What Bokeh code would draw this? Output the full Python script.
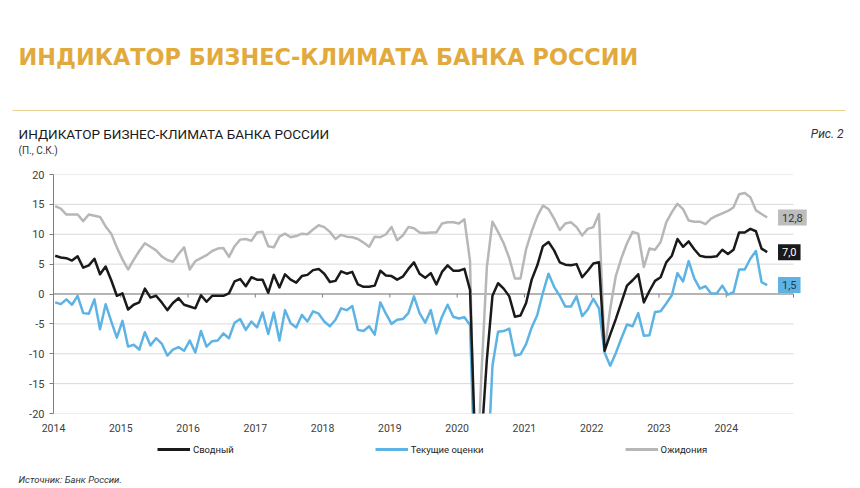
from bokeh.plotting import figure
from bokeh.layouts import column
from bokeh.models import (Label, Legend, LegendItem,
                          FixedTicker, ColumnDataSource, Range1d)
from bokeh.core.properties import value
from bokeh.embed import file_html
from bokeh.resources import INLINE

# ---- data: monthly, Jan 2014 .. Aug 2024 ----
start_year = 2014
years = list(range(2014, 2025))
y_ticks = list(range(-20, 25, 5))

svodny = [
    6.4, 6.1, 6.0, 5.6, 6.3, 4.4, 4.8, 5.9, 3.3, 4.6, 2.3, -0.3,
    0.1, -2.6, -1.8, -1.4, 0.9, -0.6, -0.3, -1.4, -2.7, -1.5, -0.7, -1.8,
    -2.1, -2.4, -0.2, -1.3, -0.3, -0.3, -0.3, 0.1, 2.1, 2.5, 1.3, 2.8,
    2.4, 2.4, 0.2, 3.2, 1.1, 3.3, 2.4, 1.9, 3.0, 3.2, 4.0, 4.2,
    3.4, 2.0, 2.2, 3.8, 3.4, 3.7, 1.6, 1.2, 1.2, 1.4, 3.9, 3.1,
    3.0, 2.4, 2.9, 4.2, 5.3, 3.4, 2.7, 3.5, 1.6, 3.7, 4.8, 3.9,
    3.9, 4.2, 0.7, -28.0, -25.0, -11.0, -0.3, 1.8, 0.9, -0.4, -3.8, -3.6,
    -1.5, 2.4, 4.8, 8.0, 8.7, 7.3, 5.3, 4.9, 4.8, 5.0, 2.8, 3.9,
    5.1, 5.3, -9.5, -6.8, -4.2, -1.4, 1.4, 2.3, 3.3, -1.4, 0.5, 2.2,
    2.8, 5.3, 6.4, 9.2, 7.9, 8.8, 7.5, 6.4, 6.2, 6.2, 6.3, 7.4,
    6.7, 7.4, 10.3, 10.3, 10.9, 10.5, 7.6, 7.0,
]

tekushchie = [
    -1.4, -1.7, -0.9, -1.8, -0.3, -3.2, -3.3, -0.9, -5.9, -1.7, -4.6, -7.3,
    -4.5, -8.8, -8.5, -9.3, -6.4, -8.6, -7.4, -8.3, -10.3, -9.3, -8.9, -9.5,
    -7.8, -9.8, -6.2, -8.8, -7.9, -7.8, -6.6, -7.4, -4.8, -4.2, -6.0, -4.6,
    -5.6, -3.1, -6.7, -3.1, -7.8, -2.7, -4.9, -5.6, -3.5, -4.6, -2.9, -3.3,
    -4.6, -5.4, -4.3, -2.4, -2.7, -2.0, -6.0, -6.2, -5.4, -6.8, -1.4, -3.3,
    -5.0, -4.3, -4.2, -3.2, -0.4, -3.2, -4.8, -2.7, -6.6, -3.8, -1.8, -3.8,
    -4.1, -3.9, -5.2, -35.0, -38.0, -32.0, -12.0, -6.3, -6.2, -5.8, -10.3, -10.1,
    -8.4, -5.6, -3.5, 0.2, 3.4, 1.2, -0.3, -2.1, -2.1, -0.4, -3.7, -2.6,
    -0.8, -2.4, -9.8, -12.0, -9.9, -7.4, -5.1, -5.4, -3.2, -7.0, -6.9, -3.0,
    -2.9, -1.6, -0.2, 3.5, 2.1, 5.5, 2.6, 0.9, 1.3, 0.1, 0.1, 1.4,
    -0.1, 0.3, 4.1, 4.1, 5.9, 7.2, 2.0, 1.5,
]

ozhidaniya = [
    14.7, 14.3, 13.3, 13.3, 13.3, 12.2, 13.3, 13.1, 12.9, 11.3, 10.1, 7.8,
    5.8, 4.1, 5.7, 7.2, 8.5, 7.9, 7.3, 6.3, 5.7, 5.4, 6.7, 7.8,
    4.1, 5.5, 6.0, 6.5, 7.2, 7.6, 7.7, 6.2, 8.0, 9.1, 9.2, 8.9,
    10.3, 10.4, 8.0, 7.8, 9.6, 10.1, 9.5, 9.7, 10.1, 10.0, 10.8, 11.5,
    11.2, 10.4, 9.2, 9.9, 9.6, 9.5, 9.2, 8.6, 7.9, 9.6, 9.5, 10.0,
    11.2, 9.0, 9.8, 11.2, 11.0, 10.3, 10.2, 10.3, 10.3, 11.8, 12.0, 12.0,
    11.8, 12.5, 5.5, -37.0, -14.0, 4.5, 12.1, 10.4, 8.5, 6.0, 2.6, 2.6,
    7.5, 10.5, 13.0, 14.8, 14.2, 12.6, 10.7, 11.8, 12.0, 11.2, 9.8, 10.9,
    11.2, 13.4, -9.5, -2.5, 3.0, 6.0, 8.5, 10.4, 10.1, 4.5, 7.6, 7.4,
    8.7, 12.0, 13.7, 15.1, 14.2, 12.3, 12.1, 12.1, 11.7, 12.6, 13.1, 13.5,
    13.9, 14.5, 16.7, 16.9, 16.2, 14.0, 13.4, 12.8,
]

series_names = ["Сводный", "Текущие оценки", "Ожидония"]
main_title = "ИНДИКАТОР БИЗНЕС-КЛИМАТА БАНКА РОССИИ"
chart_title = "ИНДИКАТОР БИЗНЕС-КЛИМАТА БАНКА РОССИИ"
units = "(П., С.К.)"
fig_no = "Рис. 2"
source_note = "Источник: Банк России."

# ---- style ----
C_BLACK = "#1a1a1a"
C_BLUE = "#5cb3e4"
C_GRAY = "#b7b7b7"
C_GOLD = "#e2aa3c"
C_GRID = "#d9d9d9"
C_AXIS = "#7f7f7f"
FONT = "Roboto"
W = 860


def bare_figure(height):
    f = figure(width=W, height=height, min_border=0,
               x_range=Range1d(0, W), y_range=Range1d(height, 0),
               output_backend="svg", toolbar_location=None)
    f.axis.visible = False
    f.grid.visible = False
    f.outline_line_color = None
    f.background_fill_color = "white"
    f.border_fill_color = "white"
    return f


# ================= header (titles + rule) =================
HH = 166
h = bare_figure(HH)
h.text(x=[18], y=[56], text=[main_title], text_font=value("DejaVu Sans"),
       text_font_style="bold", text_font_size="22.4px", text_color=C_GOLD,
       text_baseline="alphabetic")
h.segment(x0=[12], y0=[110], x1=[845], y1=[110], line_color="#ecd291", line_width=1.2)
h.text(x=[18], y=[133], text=[chart_title], text_font=value(FONT),
       text_font_size="13.5px", text_color="#1a1a1a", text_baseline="alphabetic")
h.text(x=[18], y=[150], text=[units], text_font=value(FONT),
       text_font_size="10px", text_color="#333333", text_baseline="alphabetic")
h.text(x=[843], y=[133], text=[fig_no], text_font=value(FONT),
       text_font_style="italic", text_font_size="12px", text_color="#333333",
       text_align="right", text_baseline="alphabetic")

# ================= chart =================
n = len(svodny)
xs = [start_year + (i + 0.3) / 12 for i in range(n)]
src = ColumnDataSource(dict(x=xs, s=svodny, t=tekushchie, o=ozhidaniya))

X0, X1 = 2014, 2025
px_per_year = 740 / (X1 - X0)
FW = 759
x_end = X0 + FW / px_per_year

p = figure(frame_width=FW, frame_height=239,
           min_border_left=53, min_border_right=W - 53 - FW,
           min_border_top=8, min_border_bottom=24,
           x_range=Range1d(X0, x_end), y_range=Range1d(-20, 20),
           output_backend="svg", toolbar_location=None)
p.outline_line_color = None
p.background_fill_color = "white"
p.border_fill_color = "white"
p.grid.visible = False

# horizontal gridlines limited to the plotting period
p.segment(x0=[X0] * len(y_ticks), y0=y_ticks, x1=[X1] * len(y_ticks), y1=y_ticks,
          line_color=C_GRID, line_width=1)
# zero line and year ticks on it
p.segment(x0=[X0], y0=[0], x1=[X1], y1=[0], line_color=C_AXIS, line_width=1.2)
tick_years = years[1:] + [X1]
p.segment(x0=tick_years, y0=[0] * len(tick_years), x1=tick_years,
          y1=[-0.6] * len(tick_years), line_color=C_AXIS, line_width=1)

# y axis
p.yaxis.ticker = FixedTicker(ticks=y_ticks)
p.yaxis.major_label_overrides = {v: str(v) for v in y_ticks}
p.yaxis.axis_line_color = C_AXIS
p.yaxis.major_tick_line_color = C_AXIS
p.yaxis.major_tick_out = 4
p.yaxis.major_tick_in = 0
p.yaxis.minor_tick_line_color = None
p.yaxis.major_label_standoff = 5
p.yaxis.major_label_text_font = FONT
p.yaxis.major_label_text_font_size = "11px"
p.yaxis.major_label_text_color = "#404040"

# x axis
p.xaxis.ticker = FixedTicker(ticks=years)
p.xaxis.major_label_overrides = {y: str(y) for y in years}
p.xaxis.axis_line_color = None
p.xaxis.major_tick_line_color = None
p.xaxis.minor_tick_line_color = None
p.xaxis.major_tick_out = 0
p.xaxis.major_label_standoff = 10
p.xaxis.major_label_text_font = FONT
p.xaxis.major_label_text_font_size = "10.5px"
p.xaxis.major_label_text_color = "#404040"

# series
p.line("x", "o", source=src, line_color=C_GRAY, line_width=2.5, line_join="round")
p.line("x", "t", source=src, line_color=C_BLUE, line_width=2.5, line_join="round")
p.line("x", "s", source=src, line_color=C_BLACK, line_width=2.5, line_join="round")

# end value labels
def fmt(v):
    return f"{v:.1f}".replace(".", ",")

for vals, bg, fg in [(ozhidaniya, "#bdbdbd", "#333333"),
                     (svodny, C_BLACK, "#ffffff"),
                     (tekushchie, C_BLUE, "#2b3a4a")]:
    p.add_layout(Label(x=2024.77, y=vals[-1], text=fmt(vals[-1]),
                       text_font=FONT, text_font_size="11px",
                       text_color=fg, text_baseline="middle", text_align="left",
                       background_fill_color=bg, padding=4))

# ================= footer (legend + source) =================
FH = 488 - (HH + 8 + 239 + 24)
f = bare_figure(FH)
nan = float("nan")
leg_r = [f.line(x=[nan], y=[nan], line_color=c, line_width=3)
         for c in (C_BLACK, C_BLUE, C_GRAY)]
legend = Legend(items=[LegendItem(label=nm, renderers=[r])
                       for nm, r in zip(series_names, leg_r)],
                orientation="horizontal", location=(157, FH - 18),
                spacing=141, padding=0, margin=0,
                glyph_width=33, glyph_height=12, label_height=12,
                label_standoff=3, label_text_font=FONT,
                label_text_font_size="9.5px", label_text_color="#222222",
                background_fill_alpha=0, border_line_color=None)
f.add_layout(legend)
f.text(x=[18], y=[42], text=[source_note], text_font=value(FONT),
       text_font_style="italic", text_font_size="9.5px", text_color="#333333",
       text_baseline="alphabetic")

for fig in (h, p, f):
    if "frame_align" in fig.properties():
        fig.frame_align = False

layout = column(h, p, f, spacing=0)
open("out.html", "w").write(file_html(layout, INLINE))
